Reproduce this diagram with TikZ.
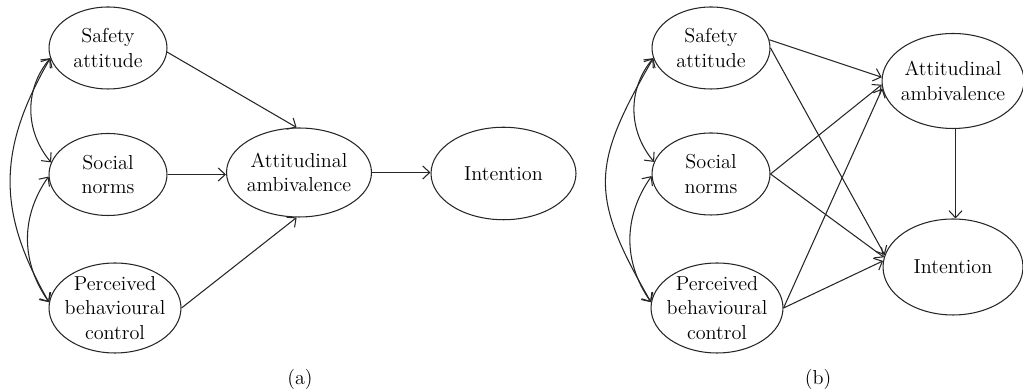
\documentclass[tikz,border=0pt]{standalone}
\usetikzlibrary{
  arrows.meta,
  shapes.geometric
}

\begin{document}
\begin{tikzpicture}[
      x=0.02cm, y=0.02cm,
      construct/.style={
         ellipse,
         draw=black!85,
         line width=0.6pt,
         inner sep=-3pt,
         align=center,
         font=\fontsize{11.5}{14}\selectfont
      },
      small construct/.style={construct, minimum width=2.36cm, minimum height=1.64cm},
      wide construct/.style={construct, minimum width=2.64cm, minimum height=1.8cm},
      big construct/.style={construct, minimum width=2.9cm, minimum height=1.85cm},
      panel label/.style={font=\fontsize{11.5}{14}\selectfont},
      >={Straight Barb[length=1.4mm,width=2.6mm]},
      link/.style={->, line width=0.6pt, draw=black!85},
      covar/.style={<->, line width=0.6pt, draw=black!85}
    ]
    \useasboundingbox (0,0) rectangle (1023,391);
    % panel (a)
    \node (saA) [small construct] at (108,343) {Safety\\attitude};
    \node (snA) [small construct] at (108,216.5) {Social\\norms};
    \node (pbA) [wide construct] at (115,83) {Perceived\\behavioural\\control};
    \node (aaA) [big construct, minimum height=1.78cm] at (299,218.5) {Attitudinal\\ambivalence};
    \node (inA) [big construct] at (503.5,217.5) {Intention};
    \node (capA) [panel label] at (300,12) {(a)};

    \draw[link] (saA.-4) -- (aaA.93);
    \draw[link] (snA.east) -- (snA.east -| aaA.west);
    \draw[link] (pbA.east) -- (aaA.267);
    \draw[link] (aaA.east) -- (aaA.east -| inA.west);

    \draw[covar] (saA.190) to[out=230, in=130] (snA.168);
    \draw[covar] (snA.182) to[out=235, in=125] (pbA.175);
    \draw[covar] (saA.190) to[out=240, in=120, looseness=1.1] (pbA.175);

    % panel (b)
    \node (saB) [small construct] at (711,343) {Safety\\attitude};
    \node (snB) [small construct] at (711,217) {Social\\norms};
    \node (pbB) [wide construct] at (717,83) {Perceived\\behavioural\\control};
    \node (aaB) [big construct, minimum width=2.84cm, minimum height=1.9cm] at (953,310) {Attitudinal\\ambivalence};
    \node (inB) [big construct, minimum width=2.8cm, minimum height=1.92cm] at (953,124) {Intention};
    \node (capB) [panel label] at (818,12) {(b)};

    \draw[link] (saB.8) -- (aaB.177);
    \draw[link] (saB.east) -- (inB.170);
    \draw[link] (snB.east) -- (aaB.183);
    \draw[link] (snB.east) -- (inB.172);
    \draw[link] (pbB.east) -- (aaB.186);
    \draw[link] (pbB.east) -- (inB.175);
    \draw[link] (aaB.273) -- (aaB.273 |- inB.north);

    \draw[covar] (saB.190) to[out=230, in=130] (snB.168);
    \draw[covar] (snB.182) to[out=235, in=125] (pbB.175);
    \draw[covar] (saB.190) to[out=240, in=120, looseness=1.3] (pbB.175);
\end{tikzpicture}
\end{document}
